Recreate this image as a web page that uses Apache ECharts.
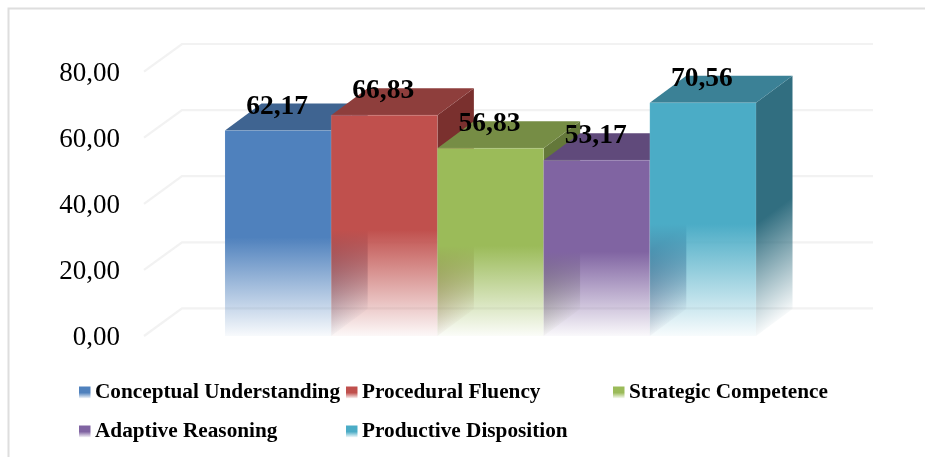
<!DOCTYPE html>
<html>
<head>
<meta charset="utf-8">
<style>
  html, body { margin: 0; padding: 0; background: #fff; }
  #chart { width: 925px; height: 457px; }
</style>
<script src="https://cdn.jsdelivr.net/npm/echarts@6/dist/echarts.min.js"></script>
</head>
<body>
<div id="chart"></div>
<script>
// Mean score for each indicator
const seriesNames = ['Conceptual Understanding', 'Procedural Fluency', 'Strategic Competence', 'Adaptive Reasoning', 'Productive Disposition'];
const seriesValues = [62.17, 66.83, 56.83, 53.17, 70.56];
const yTicks = [0, 20, 40, 60, 80];

const frontColors = ['#4f81bd', '#c0504d', '#9bbb59', '#8064a2', '#4bacc6'];
const topColors = ['#3f6491', '#8e3e3c', '#768d45', '#604a7b', '#3b8196'];
const sideColors = ['#345377', '#7a302e', '#64783a', '#50406a', '#316e80'];

const serif = '"Liberation Serif", "Times New Roman", serif';
const barDepth = [36.5, 27];
const wallDepth = [38, 27.6];
const barBandShare = 0.1537;
const barNudge = 1;
const fadeFrom = 0.52;
const fadeEndAlpha = 0.04;

const fmt = v => v.toFixed(2).replace('.', ',');

function fadeStops(color) {
  return [
    { offset: 0, color: color },
    { offset: fadeFrom, color: color },
    { offset: 1, color: echarts.color.modifyAlpha(color, fadeEndAlpha) }
  ];
}

// Side faces fade along the receding edge, so the gradient axis is normal to it.
function shearedFade(color, x, yTop, h) {
  const len = Math.hypot(barDepth[0], barDepth[1]);
  const nx = barDepth[1] / len, ny = barDepth[0] / len;
  return new echarts.graphic.LinearGradient(x, yTop, x + h * ny * nx, yTop + h * ny * ny, fadeStops(color), true);
}

function barGeometry(api, i, value) {
  const top = api.coord([0, value]);
  const base = api.coord([0, 0]);
  const band = api.size([1, 0])[0];
  const w = band * barBandShare;
  return { x: top[0] + barNudge + (i - 2.5) * w, w, yTop: top[1], yBase: base[1] };
}

function renderBar(i) {
  return function (params, api) {
    const g = barGeometry(api, i, api.value(1));
    const dx = barDepth[0], dy = barDepth[1];
    const xr = g.x + g.w, h = g.yBase - g.yTop;
    const edge = 'rgba(255,255,255,0.1)';
    return {
      type: 'group',
      children: [
        {
          type: 'polygon',
          shape: { points: [[xr, g.yTop], [xr + dx, g.yTop - dy], [xr + dx, g.yBase - dy], [xr, g.yBase]] },
          style: { fill: shearedFade(sideColors[i], xr, g.yTop, h) }
        },
        {
          type: 'polygon',
          shape: { points: [[g.x, g.yTop], [g.x + dx, g.yTop - dy], [xr + dx, g.yTop - dy], [xr, g.yTop]] },
          style: { fill: topColors[i] }
        },
        {
          type: 'rect',
          shape: { x: g.x, y: g.yTop, width: g.w, height: h },
          style: {
            fill: new echarts.graphic.LinearGradient(0, g.yTop, 0, g.yBase, fadeStops(frontColors[i]), true),
            stroke: edge,
            lineWidth: 1
          }
        }
      ]
    };
  };
}

function renderValueLabel(params, api) {
  const i = params.dataIndex;
  const g = barGeometry(api, i, api.value(1));
  return {
    type: 'text',
    style: {
      x: g.x + g.w / 2 - 1,
      y: g.yTop - 24,
      text: fmt(api.value(1)),
      font: 'bold 27.5px ' + serif,
      fill: '#000',
      align: 'center',
      verticalAlign: 'middle'
    }
  };
}

// Floor and back wall rules: a diagonal from the front plane, then a run along the wall.
function renderWallLine(params, api) {
  const p = api.coord([0, api.value(1)]);
  const band = api.size([1, 0])[0];
  const x0 = p[0] - band / 2;
  const y = p[1];
  return {
    type: 'polyline',
    shape: { points: [[x0, y], [x0 + wallDepth[0], y - wallDepth[1]], [x0 + band + wallDepth[0], y - wallDepth[1]]] },
    style: { stroke: '#f2f2f2', lineWidth: 2.2, fill: 'none' }
  };
}

const legendSlots = [[79, 382], [346, 382], [613, 382], [79, 421], [346, 421]];

const legends = seriesNames.map((name, i) => ({
  left: legendSlots[i][0],
  top: legendSlots[i][1],
  itemGap: 0,
  padding: 0,
  itemWidth: 11.5,
  itemHeight: 12,
  textStyle: { fontFamily: serif, fontWeight: 'bold', fontSize: 21.25, color: '#000', padding: [0, 0, 0, -0.5] },
  data: [{
    name,
    icon: 'rect',
    itemStyle: {
      color: new echarts.graphic.LinearGradient(0, 0, 0, 1, fadeStops(frontColors[i]))
    }
  }]
}));

const barSeries = seriesNames.map((name, i) => ({
  type: 'custom',
  name,
  z: 3,
  renderItem: renderBar(i),
  encode: { x: 0, y: 1 },
  itemStyle: { color: frontColors[i] },
  data: [[0, seriesValues[i]]]
}));

const chart = echarts.init(document.getElementById('chart'), null, { renderer: 'canvas' });
chart.setOption({
  animation: false,
  backgroundColor: '#fff',
  legend: legends,
  graphic: [{
    type: 'polyline',
    silent: true,
    z: -1,
    shape: { points: [[8.5, 457], [8.5, 8.5], [925, 8.5]] },
    style: { fill: 'none', stroke: '#dedede', lineWidth: 2 }
  }],
  grid: { left: 144, right: 90, top: 71.6, bottom: 121 },
  xAxis: {
    type: 'category',
    data: [''],
    axisLine: { show: false },
    axisTick: { show: false },
    axisLabel: { show: false }
  },
  yAxis: {
    type: 'value',
    min: yTicks[0],
    max: yTicks[yTicks.length - 1],
    interval: 20,
    axisLine: { show: false },
    axisTick: { show: false },
    splitLine: { show: false },
    axisLabel: {
      margin: 24,
      verticalAlign: 'top',
      lineHeight: 4,
      fontFamily: serif,
      fontSize: 27,
      color: '#000',
      formatter: fmt
    }
  },
  series: [
    {
      type: 'custom',
      name: 'wall',
      z: 1,
      silent: true,
      renderItem: renderWallLine,
      encode: { x: 0, y: 1 },
      data: yTicks.map(v => [0, v])
    },
    ...barSeries,
    {
      type: 'custom',
      name: 'values',
      z: 5,
      silent: true,
      renderItem: renderValueLabel,
      encode: { x: 0, y: 1 },
      data: seriesValues.map(v => [0, v])
    }
  ]
});
</script>
</body>
</html>
